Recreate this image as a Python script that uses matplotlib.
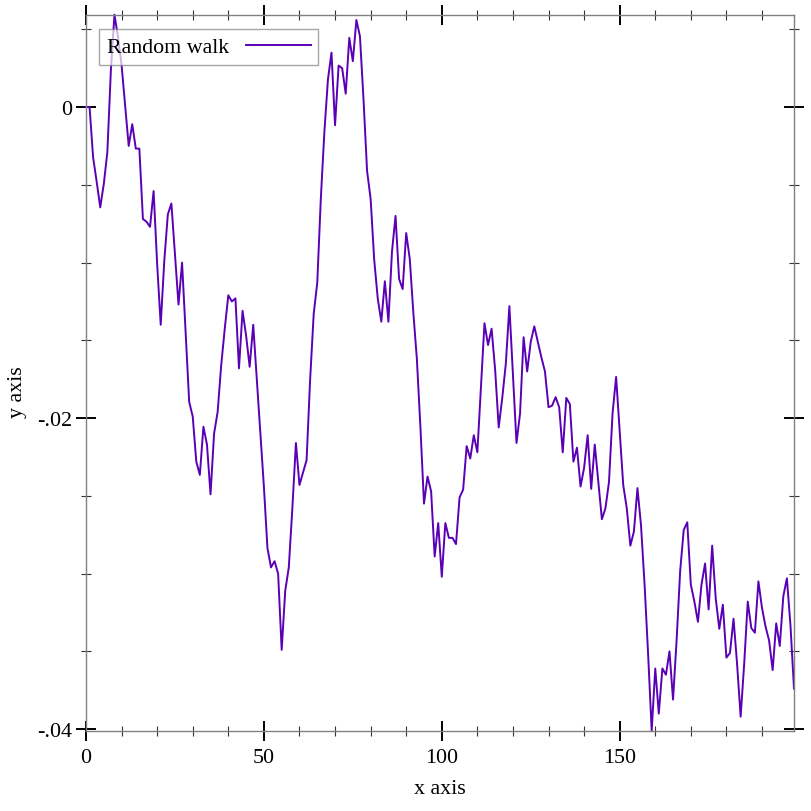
import numpy as np
import matplotlib.pyplot as plt
from matplotlib.ticker import FuncFormatter, MultipleLocator

# random walk values, in thousandths
walk_milli = [
    0.0, 0.0, -3.24, -4.8, -6.45, -4.95, -2.9, 2.4, 5.94, 4.5,
    2.7, 0.1, -2.5, -1.1, -2.67, -2.67, -7.2, -7.37, -7.7, -5.4,
    -10.1, -14.0, -9.9, -6.9, -6.2, -9.4, -12.7, -10.0, -14.5, -18.95,
    -19.9, -22.8, -23.65, -20.55, -21.7, -24.9, -21.0, -19.6, -16.6, -14.25,
    -12.1, -12.5, -12.3, -16.8, -13.1, -14.7, -16.7, -14.0, -17.5, -21.0,
    -24.4, -28.35, -29.6, -29.2, -30.0, -34.9, -31.1, -29.6, -25.8, -21.6,
    -24.3, -23.5, -22.7, -17.5, -13.3, -11.3, -5.9, -1.6, 1.77, 3.5,
    -1.17, 2.67, 2.5, 0.86, 4.45, 2.95, 5.6, 4.55, 0.5, -4.1,
    -5.9, -9.8, -12.3, -13.8, -11.2, -13.8, -9.3, -7.0, -11.05, -11.7,
    -8.1, -9.76, -13.2, -16.2, -20.6, -25.5, -23.76, -24.7, -28.9, -26.75,
    -30.2, -26.75, -27.7, -27.7, -28.1, -25.1, -24.6, -21.8, -22.6, -21.1,
    -22.2, -18.1, -13.9, -15.3, -14.25, -16.9, -20.6, -18.7, -16.5, -12.8,
    -17.2, -21.6, -19.7, -14.8, -17.0, -15.1, -14.1, -15.1, -16.1, -17.0,
    -19.3, -19.2, -18.65, -19.3, -22.2, -18.7, -19.1, -22.8, -21.9, -24.4,
    -23.2, -21.1, -24.55, -21.7, -24.1, -26.5, -25.8, -24.1, -19.7, -17.35,
    -20.8, -24.3, -25.8, -28.2, -27.3, -24.5, -26.9, -30.7, -35.2, -40.1,
    -36.1, -39.0, -36.1, -36.5, -35.0, -38.1, -34.3, -29.85, -27.2, -26.7,
    -30.7, -31.8, -33.1, -30.7, -29.35, -32.3, -28.2, -31.6, -33.55, -32.0,
    -35.4, -35.1, -32.9, -35.8, -39.2, -35.8, -31.8, -33.5, -33.8, -30.5,
    -32.2, -33.4, -34.3, -36.2, -33.2, -34.65, -31.45, -30.3, -33.3, -37.4,
]
x_ticks = [0, 50, 100, 150]
y_ticks = [0.0, -0.02, -0.04]

walk = np.array(walk_milli) / 1000.0
steps = np.arange(len(walk))

plt.rcParams['font.family'] = ['Liberation Serif', 'DejaVu Serif']
FS = 15.8
W, H = 812, 812

fig = plt.figure(figsize=(W / 100, H / 100), dpi=100)
ax = fig.add_axes([86 / W, 1 - 731.7 / H, (794 - 86) / W, (731.7 - 15.7) / H])

ax.plot(steps, walk, color='#5a00b6', linewidth=1.4, label='Random walk',
        clip_on=False, zorder=2)

ax.set_xlim(steps.min(), steps.max())
ax.set_ylim(walk.min(), walk.max())

ax.xaxis.set_major_locator(plt.FixedLocator(x_ticks))
ax.xaxis.set_minor_locator(MultipleLocator(10))
ax.yaxis.set_major_locator(plt.FixedLocator(y_ticks))
ax.yaxis.set_minor_locator(MultipleLocator(0.005))

def fmt_y(v, pos):
    if abs(v) < 1e-12:
        return '0'
    s = f"{v:.2f}".rstrip('0')
    return s.replace('0.', '.')

ax.yaxis.set_major_formatter(FuncFormatter(fmt_y))

for side in ['left', 'right', 'top', 'bottom']:
    ax.spines[side].set_color('#808080')
    ax.spines[side].set_linewidth(1.0)

ax.tick_params(which='major', direction='inout', length=14.4, width=1.4,
               color='black', labelsize=FS, top=True, right=True)
ax.tick_params(which='minor', direction='inout', length=7.2, width=0.8,
               color='#333333', top=True, right=True)
ax.tick_params(axis='x', which='major', pad=5.0)
ax.tick_params(axis='y', which='major', pad=3.0)

fig.text(440 / W, 1 - 790 / H, 'x axis', ha='center', va='center', fontsize=FS)
fig.text(18 / W, 1 - 392 / H, 'y axis', ha='center', va='center',
         rotation=90, fontsize=FS)

leg = ax.legend(loc='upper left',
                bbox_to_anchor=((99.3 - 86) / 708, 1 - (30 - 15.7) / 716),
                borderaxespad=0, markerfirst=False, handlelength=2.95,
                handletextpad=0.75, borderpad=0.36, fancybox=False,
                edgecolor='#808080', framealpha=0.7, fontsize=FS)
leg.get_frame().set_linewidth(1.0)

fig.savefig('out.png', dpi=100)
